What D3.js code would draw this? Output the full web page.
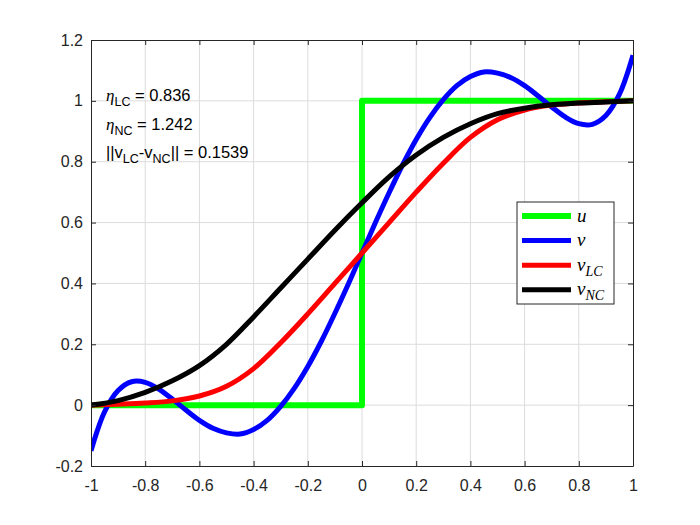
<!DOCTYPE html>
<html lang="en">
<head>
<meta charset="UTF-8">
<title>Step approximation</title>
<script src="https://d3js.org/d3.v7.min.js"></script>
<style>
    body, html { margin: 0; background: #fff; }
    svg { display: block; }
    .tick text { font-family: "Liberation Sans", Arial, sans-serif; font-size: 16px; fill: #262626; }
    .axis path, .axis line { stroke: #262626; }
    .grid line { stroke: #dcdcdc; stroke-width: 1; }
    .note { font-family: "Liberation Sans", Arial, sans-serif; font-size: 16.5px; fill: #000; }
    .legend text { font-family: "Liberation Serif", "Times New Roman", serif; font-style: italic; fill: #000; }
</style>
</head>
<body>
<script>
// tick values and labels
const xTicks = [-1, -0.8, -0.6, -0.4, -0.2, 0, 0.2, 0.4, 0.6, 0.8, 1];
const xTickLabels = ["-1", "-0.8", "-0.6", "-0.4", "-0.2", "0", "0.2", "0.4", "0.6", "0.8", "1"];
const yTicks = [-0.2, 0, 0.2, 0.4, 0.6, 0.8, 1, 1.2];
const yTickLabels = ["-0.2", "0", "0.2", "0.4", "0.6", "0.8", "1", "1.2"];

// u : step
const uX = [-1, 0, 0, 1];
const uY = [0, 0, 1, 1];

// v : sampled every 0.05
const vX = [-1, -0.95, -0.9, -0.85, -0.8, -0.75, -0.7, -0.65, -0.6, -0.55, -0.5, -0.45, -0.4, -0.35, -0.3, -0.25, -0.2, -0.15, -0.1, -0.05,
            0, 0.05, 0.1, 0.15, 0.2, 0.25, 0.3, 0.35, 0.4, 0.45, 0.5, 0.55, 0.6, 0.65, 0.7, 0.75, 0.8, 0.85, 0.9, 0.95, 1];
const vY = [-0.150, -0.022, 0.048, 0.077, 0.075, 0.053, 0.020, -0.016, -0.050, -0.076, -0.091, -0.095, -0.080, -0.050, -0.004, 0.055, 0.127, 0.210, 0.302, 0.399,
            0.5, 0.601, 0.698, 0.790, 0.873, 0.945, 1.004, 1.050, 1.080, 1.095, 1.091, 1.076, 1.050, 1.016, 0.980, 0.947, 0.925, 0.923, 0.952, 1.022, 1.150];

// v_LC and v_NC sampled every 0.1
const wX = [-1, -0.9, -0.8, -0.7, -0.6, -0.5, -0.4, -0.3, -0.2, -0.1, 0, 0.1, 0.2, 0.3, 0.4, 0.5, 0.6, 0.7, 0.8, 0.9, 1];
const vLC = [0, 0.003, 0.007, 0.014, 0.030, 0.062, 0.120, 0.205, 0.300, 0.400, 0.5, 0.600, 0.700, 0.795, 0.880, 0.938, 0.970, 0.986, 0.993, 0.997, 1];
const vNC = [0, 0.015, 0.042, 0.080, 0.130, 0.200, 0.290, 0.385, 0.480, 0.575, 0.665, 0.750, 0.822, 0.880, 0.925, 0.958, 0.976, 0.987, 0.993, 0.996, 1];

const series = [
    { name: "u", sub: "", color: "#00ff00", width: 6, xs: uX, ys: uY, curve: d3.curveLinear },
    { name: "v", sub: "", color: "#0000ff", width: 5, xs: vX, ys: vY, curve: d3.curveCatmullRom },
    { name: "v", sub: "LC", color: "#ff0000", width: 5, xs: wX, ys: vLC, curve: d3.curveCatmullRom },
    { name: "v", sub: "NC", color: "#000000", width: 5, xs: wX, ys: vNC, curve: d3.curveCatmullRom }
];

const width = 700, height = 525;
const margin = { top: 40, right: 67, bottom: 59, left: 91 };
const iw = width - margin.left - margin.right, ih = height - margin.top - margin.bottom;

const svg = d3.select("body").append("svg")
    .attr("width", width)
    .attr("height", height);

const g = svg.append("g").attr("transform", `translate(${margin.left},${margin.top})`);

const x = d3.scaleLinear().domain([-1, 1]).range([0, iw]);
const y = d3.scaleLinear().domain([-0.2, 1.2]).range([ih, 0]);

// grid
const grid = g.append("g").attr("class", "grid");
grid.selectAll(".gx").data(xTicks.slice(1, -1)).join("line")
    .attr("x1", d => x(d)).attr("x2", d => x(d))
    .attr("y1", 0).attr("y2", ih);
grid.selectAll(".gy").data(yTicks.slice(1, -1)).join("line")
    .attr("class", "gy")
    .attr("x1", 0).attr("x2", iw)
    .attr("y1", d => y(d)).attr("y2", d => y(d));

// curves
g.append("clipPath").attr("id", "clip").append("rect")
    .attr("width", iw).attr("height", ih);

const plot = g.append("g").attr("clip-path", "url(#clip)");
series.forEach(s => {
    const pts = s.xs.map((xv, i) => [xv, s.ys[i]]);
    plot.append("path")
        .datum(pts)
        .attr("fill", "none")
        .attr("stroke", s.color)
        .attr("stroke-width", s.width)
        .attr("stroke-linejoin", "round")
        .attr("d", d3.line().x(d => x(d[0])).y(d => y(d[1])).curve(s.curve));
});

// axes (ticks pointing inward on all four sides)
g.append("g").attr("class", "axis")
    .attr("transform", `translate(0,${ih})`)
    .call(d3.axisBottom(x).tickValues(xTicks).tickFormat((d, i) => xTickLabels[i])
        .tickSizeInner(-5).tickSizeOuter(0).tickPadding(14));
g.append("g").attr("class", "axis")
    .call(d3.axisTop(x).tickValues(xTicks).tickFormat("")
        .tickSizeInner(-5).tickSizeOuter(0));
g.append("g").attr("class", "axis")
    .call(d3.axisLeft(y).tickValues(yTicks).tickFormat((d, i) => yTickLabels[i])
        .tickSizeInner(-5).tickSizeOuter(0).tickPadding(8));
g.append("g").attr("class", "axis")
    .attr("transform", `translate(${iw},0)`)
    .call(d3.axisRight(y).tickValues(yTicks).tickFormat("")
        .tickSizeInner(-5).tickSizeOuter(0));
g.selectAll(".axis .domain").attr("stroke-width", 1);

// annotation text
const notes = [
    [{ t: "\u03b7", greek: true }, { t: "LC", sub: true }, { t: " = 0.836" }],
    [{ t: "\u03b7", greek: true }, { t: "NC", sub: true }, { t: " = 1.242" }],
    [{ t: "||v" }, { t: "LC", sub: true }, { t: "-v" }, { t: "NC", sub: true }, { t: "|| = 0.1539" }]
];
notes.forEach((parts, li) => {
    const txt = svg.append("text").attr("class", "note")
        .attr("x", 106).attr("y", 101 + li * 28.5);
    let shifted = false;
    parts.forEach(p => {
        const ts = txt.append("tspan").text(p.t);
        if (p.greek) ts.style("font-family", "'Liberation Serif', serif").style("font-style", "italic").style("font-size", "17px");
        if (p.sub) { ts.attr("dy", 5).style("font-size", "12.5px"); shifted = true; }
        else if (shifted) { ts.attr("dy", -5); shifted = false; }
    });
});

// legend
const lg = svg.append("g").attr("class", "legend").attr("transform", "translate(517,202)");
lg.append("rect").attr("width", 97).attr("height", 102)
    .attr("fill", "#fff").attr("stroke", "#262626").attr("stroke-width", 1);
series.forEach((s, i) => {
    const row = lg.append("g").attr("transform", `translate(0,${14 + i * 24.6})`);
    row.append("line").attr("x1", 5).attr("x2", 54).attr("y1", 0).attr("y2", 0)
        .attr("stroke", s.color).attr("stroke-width", s.width);
    const t = row.append("text").attr("x", 60).attr("y", 5.5).style("font-size", "19px");
    t.append("tspan").text(s.name);
    if (s.sub) t.append("tspan").attr("dy", 5).style("font-size", "14px").text(s.sub);
});
</script>
</body>
</html>
